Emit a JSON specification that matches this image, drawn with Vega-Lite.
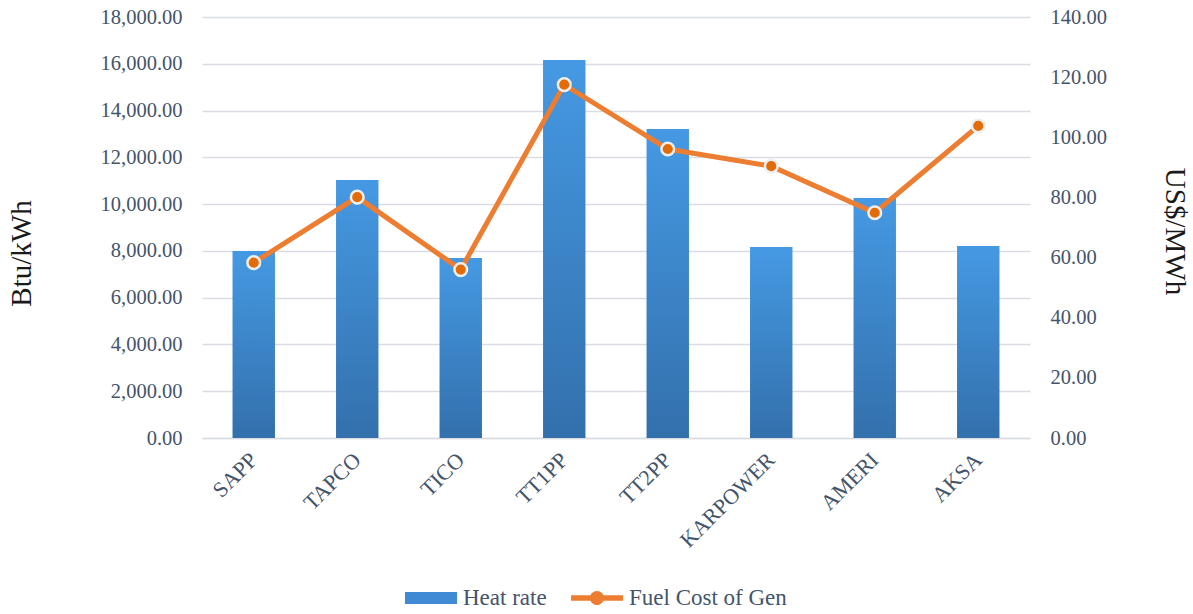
{
  "$schema": "https://vega.github.io/schema/vega-lite/v6.json",
  "width": 828,
  "height": 421,
  "autosize": {"type": "none"},
  "padding": {"left": 202, "top": 17, "right": 163, "bottom": 176},
  "background": "white",
  "data": {
    "values": [
      {"plant": "SAPP", "heat_rate": 7995, "fuel_cost": 58.3},
      {"plant": "TAPCO", "heat_rate": 11030, "fuel_cost": 80.1},
      {"plant": "TICO", "heat_rate": 7700, "fuel_cost": 56.0},
      {"plant": "TT1PP", "heat_rate": 16160, "fuel_cost": 117.5},
      {"plant": "TT2PP", "heat_rate": 13210, "fuel_cost": 96.1},
      {"plant": "KARPOWER", "heat_rate": 8170, "fuel_cost": 90.4},
      {"plant": "AMERI", "heat_rate": 10260, "fuel_cost": 74.9},
      {"plant": "AKSA", "heat_rate": 8210, "fuel_cost": 103.8}
    ]
  },
  "config": {
    "view": {"stroke": null},
    "font": "Liberation Serif",
    "axis": {"labelFont": "Liberation Serif", "titleFont": "Liberation Serif"}
  },
  "layer": [
    {
      "mark": {
        "type": "bar",
        "color": {
          "gradient": "linear",
          "x1": 0, "y1": 0, "x2": 0, "y2": 1,
          "stops": [
            {"offset": 0, "color": "#4599E3"},
            {"offset": 1, "color": "#3370AC"}
          ]
        }
      },
      "encoding": {
        "x": {
          "field": "plant",
          "type": "nominal",
          "sort": null,
          "scale": {"paddingInner": 0.59, "paddingOuter": 0.295},
          "axis": {
            "title": null,
            "labelAngle": -45,
            "labelAlign": "right",
            "labelBaseline": "middle",
            "labelPadding": 18,
            "labelFontSize": 22,
            "labelColor": "#44546A",
            "ticks": false,
            "domain": true,
            "domainColor": "#D9DDE3",
            "domainWidth": 1.5
          }
        },
        "y": {
          "field": "heat_rate",
          "type": "quantitative",
          "scale": {"domain": [0, 18000], "nice": false},
          "axis": {
            "title": "Btu/kWh",
            "values": [0, 2000, 4000, 6000, 8000, 10000, 12000, 14000, 16000, 18000],
            "format": ",.2f",
            "labelFontSize": 20.5,
            "labelColor": "#44546A",
            "labelPadding": 20,
            "ticks": false,
            "domain": false,
            "grid": true,
            "gridColor": "#D9DDE3",
            "gridWidth": 1.5,
            "titleFontSize": 29,
            "titleFontWeight": "normal",
            "titleColor": "#1A1A1A",
            "titleAngle": -90,
            "titleX": -181,
            "titleY": 236,
            "titleAlign": "center",
            "titleBaseline": "middle"
          }
        }
      }
    },
    {
      "encoding": {
        "x": {"field": "plant", "type": "nominal", "sort": null},
        "y": {
          "field": "fuel_cost",
          "type": "quantitative",
          "scale": {"domain": [0, 140], "nice": false},
          "axis": {
            "orient": "right",
            "title": "US$/MWh",
            "values": [0, 20, 40, 60, 80, 100, 120, 140],
            "format": ".2f",
            "labelFontSize": 20.5,
            "labelColor": "#44546A",
            "labelPadding": 20,
            "ticks": false,
            "domain": false,
            "grid": false,
            "titleFontSize": 29,
            "titleFontWeight": "normal",
            "titleColor": "#1A1A1A",
            "titleAngle": 90,
            "titleX": 144,
            "titleY": 214,
            "titleAlign": "center",
            "titleBaseline": "middle"
          }
        }
      },
      "layer": [
        {
          "mark": {"type": "line", "strokeWidth": 5},
          "encoding": {
            "color": {
              "datum": "Fuel Cost of Gen",
              "scale": {
                "domain": ["Heat rate", "Fuel Cost of Gen"],
                "range": ["#3F8AD2", "#ED7D31"]
              },
              "legend": {
                "title": null,
                "orient": "none",
                "direction": "horizontal",
                "legendX": 203,
                "legendY": 555,
                "symbolSize": 2704,
                "labelFontSize": 23,
                "labelFont": "Liberation Serif",
                "labelColor": "#44546A",
                "labelOffset": 6,
                "columnPadding": 24,
                "encode": {
                  "symbols": {
                    "update": {
                      "shape": {"signal": "datum.value === 'Heat rate' ? 'M-1,-0.23H1V0.23H-1Z' : 'M-1,-0.11H1V0.11H-1Z M-0.27,0A0.27,0.27 0 1,1 0.27,0A0.27,0.27 0 1,1 -0.27,0Z'"},
                      "fill": {"signal": "datum.value === 'Heat rate' ? '#3F8AD2' : '#ED7D31'"},
                      "stroke": {"value": "transparent"},
                      "strokeWidth": {"value": 0},
                      "opacity": {"value": 1}
                    }
                  }
                }
              }
            }
          }
        },
        {
          "mark": {
            "type": "point",
            "filled": true,
            "fill": "#E36C09",
            "stroke": "#EFEFEF",
            "strokeWidth": 2.5,
            "size": 160,
            "opacity": 1,
            "shape": "circle"
          }
        }
      ]
    }
  ],
  "resolve": {"scale": {"y": "independent"}}
}
